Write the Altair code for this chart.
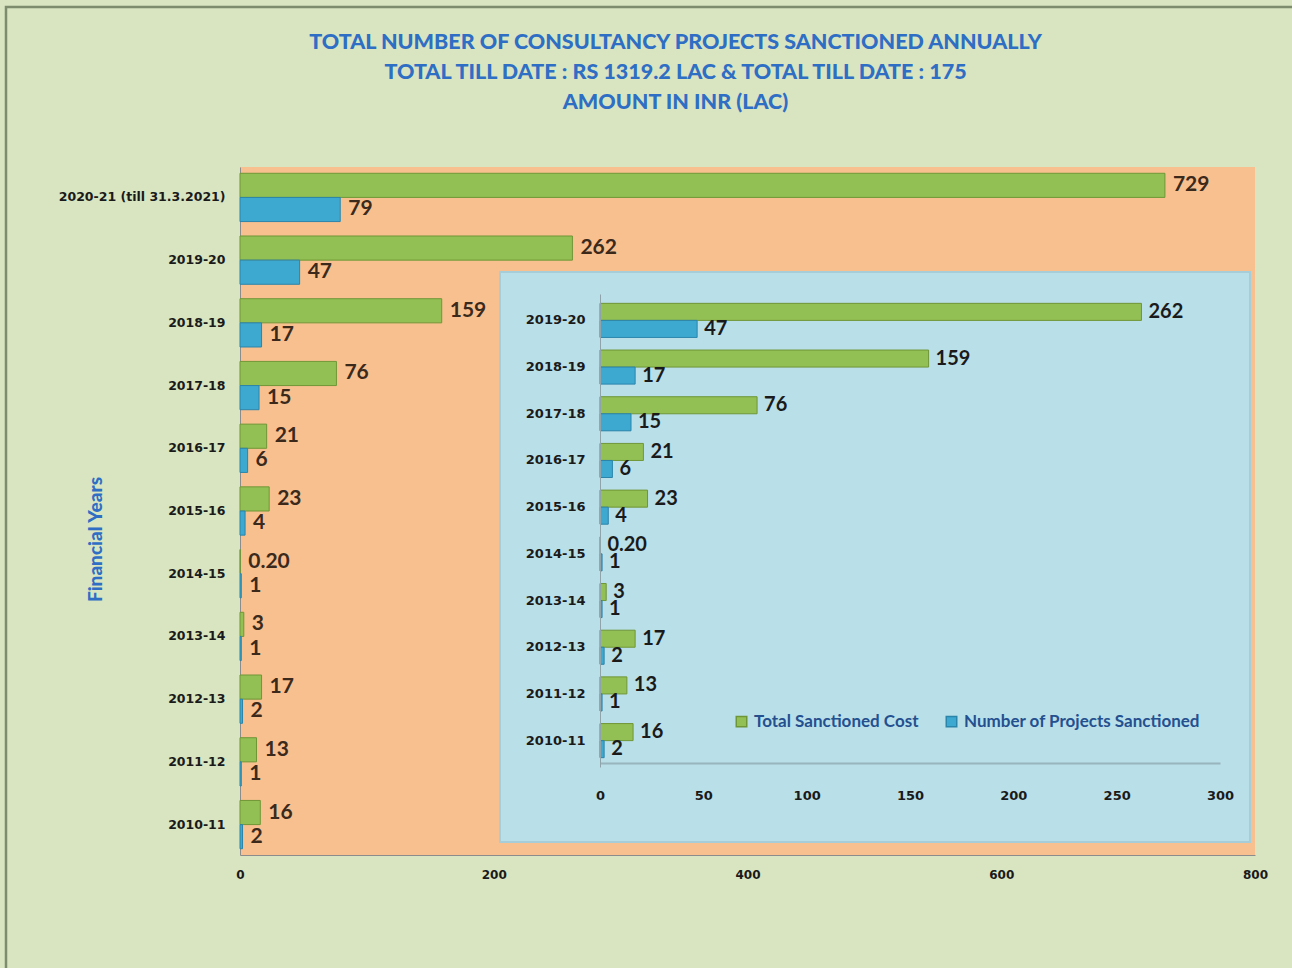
import altair as alt
import pandas as pd

# ---------------- data ----------------
years = ["2020-21 (till 31.3.2021)", "2019-20", "2018-19", "2017-18", "2016-17",
         "2015-16", "2014-15", "2013-14", "2012-13", "2011-12", "2010-11"]
cost = [729, 262, 159, 76, 21, 23, 0.20, 3, 17, 13, 16]
count = [79, 47, 17, 15, 6, 4, 1, 1, 2, 1, 2]
series_names = ["Total Sanctioned Cost", "Number of Projects Sanctioned"]
inset_years = years[1:]
main_ticks = [0, 200, 400, 600, 800]
inset_ticks = [0, 50, 100, 150, 200, 250, 300]
title_lines = [
    "TOTAL  NUMBER  OF CONSULTANCY  PROJECTS SANCTIONED  ANNUALLY",
    "TOTAL  TILL DATE : RS 1319.2 LAC & TOTAL  TILL DATE : 175",
    "AMOUNT  IN INR (LAC)",
]


def fmt(v):
    return f"{v:.2f}" if v < 1 else f"{v:g}"


rows = []
for y, c, n in zip(years, cost, count):
    rows.append({"year": y, "series": series_names[0], "value": c, "label": fmt(c)})
    rows.append({"year": y, "series": series_names[1], "value": n, "label": fmt(n)})
df = pd.DataFrame(rows)
df_in = df[df["year"].isin(inset_years)].reset_index(drop=True)
one = pd.DataFrame({"k": [0]})

FONT = "Lato"
TICKFONT = "DejaVu Sans"

leg = alt.Legend(orient="none", legendX=493, legendY=546, direction="horizontal",
                 title=None, symbolType="square", symbolSize=110, symbolStrokeWidth=1.5,
                 labelFont=FONT, labelFontWeight="bold", labelFontSize=17, labelLimit=400,
                 labelColor="#24508F", columnPadding=24, labelOffset=4, zindex=2)
color = alt.Color("series:N", scale=alt.Scale(domain=series_names, range=["#93C054", "#3DA9D1"]), legend=leg)
stroke = alt.Stroke("series:N", scale=alt.Scale(domain=series_names, range=["#6F9636", "#2B84AA"]), legend=leg)

# ---------------- main chart ----------------
x_main = alt.X("value:Q", scale=alt.Scale(domain=[0, 800], nice=False),
               axis=alt.Axis(values=main_ticks, title=None, grid=False, ticks=False, labelFlush=False,
                             labelPadding=14, domainColor="#8C8C8C", labelFont=TICKFONT,
                             labelFontWeight="bold", labelFontSize=12, labelColor="#1A1A1A"))
y_main = alt.Y("year:N", sort=years, scale=alt.Scale(paddingInner=0.23, paddingOuter=0.1),
               axis=alt.Axis(title="Financial Years", ticks=False, labelPadding=15, domainColor="#8C8C8C",
                             labelFont=TICKFONT, labelFontWeight="bold", labelFontSize=12.5,
                             labelColor="#1A1A1A", labelLimit=300,
                             titleX=-145, titleY=372, titleAngle=270, titleAlign="center",
                             titleBaseline="middle", titleFont=FONT, titleFontWeight=900,
                             titleFontSize=19, titleColor="#2E6EC4"))
yoff_main = alt.YOffset("series:N", sort=series_names, scale=alt.Scale(domain=series_names))

frame = alt.Chart(one).mark_rect(fill=None, stroke="#7C8C6C", strokeWidth=2.5).encode(
    x=alt.value(-234), x2=alt.value(1080), y=alt.value(-160), y2=alt.value(830))

main_bars = alt.Chart(df).mark_bar(strokeWidth=1).encode(
    x=x_main, y=y_main, yOffset=yoff_main, color=color, stroke=stroke)
main_text = alt.Chart(df).mark_text(align="left", baseline="middle", dx=8, font=FONT,
                                    fontWeight="bold", fontSize=21, color="#3B2A1C").encode(
    x=x_main, y=y_main, yOffset=yoff_main, text="label:N")
main = alt.layer(frame, main_bars, main_text)

# ---------------- inset chart ----------------
panel = alt.Chart(one).mark_rect(fill="#B9DFE9", stroke="#A6CDD8", strokeWidth=2).encode(
    x=alt.value(260), x2=alt.value(1010), y=alt.value(105), y2=alt.value(675))

x_in = alt.X("value:Q", scale=alt.Scale(domain=[0, 300], range=[360, 980], nice=False),
             axis=alt.Axis(orient="bottom", offset=-92, values=inset_ticks, title=None, grid=False,
                           ticks=False, labelFlush=False, labelPadding=26, domainColor="#98B4BC",
                           domainWidth=2, labelFont=TICKFONT, labelFontWeight="bold", labelFontSize=13,
                           labelColor="#1A1A1A", zindex=1))
y_in = alt.Y("year:N", sort=inset_years, scale=alt.Scale(range=[127, 600], paddingInner=0.27),
             axis=alt.Axis(orient="left", offset=-360, title=None, ticks=False, labelPadding=15,
                           domainColor="#8FA3AA", labelFont=TICKFONT, labelFontWeight="bold",
                           labelFontSize=13, labelColor="#1A1A1A", zindex=1))
yoff_in = alt.YOffset("series:N", sort=series_names, scale=alt.Scale(domain=series_names))

in_bars = alt.Chart(df_in).mark_bar(strokeWidth=1).encode(
    x=x_in, y=y_in, yOffset=yoff_in, color=color, stroke=stroke)
in_text = alt.Chart(df_in).mark_text(align="left", baseline="middle", dx=7, font=FONT,
                                     fontWeight="bold", fontSize=20, color="#1A1A1A").encode(
    x=x_in, y=y_in, yOffset=yoff_in, text="label:N")
inset = alt.layer(panel, in_bars, in_text)

chart = alt.layer(main, inset).resolve_scale(
    x="independent", y="independent", yOffset="independent"
).properties(
    width=1015, height=688, autosize="none",
    padding={"left": 240, "top": 167, "right": 37, "bottom": 113},
    title=alt.TitleParams(text=title_lines, anchor="middle", font=FONT, fontWeight=900,
                          fontSize=21.5, color="#2E6EC4", lineHeight=30, offset=-108, dx=-72),
).configure(background="#D9E4C1").configure_view(fill="#F9C08F", stroke=None)

chart.save("out.html", embed_options={"renderer": "svg", "actions": False})
